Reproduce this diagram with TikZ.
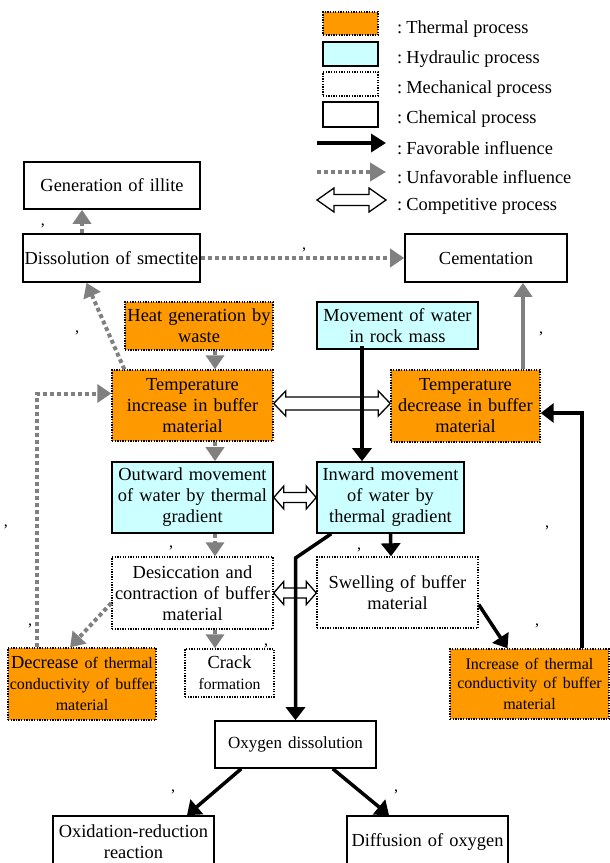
\documentclass[tikz,border=0pt]{standalone}
\usepackage{fontspec}
\setmainfont{Liberation Serif}
\usetikzlibrary{arrows.meta,calc}
\definecolor{thermfill}{HTML}{FF9900}
\definecolor{hydfill}{HTML}{CCFFFF}
\definecolor{arrgray}{HTML}{808080}
\newcommand\comparr[5]{\draw[line width=1.3pt, fill=white, line join=miter] let \p1=#1, \p2=#2 in (\x1,\y1) -- (\x1+#5,\y1+#4) -- (\x1+#5,\y1+#3) -- (\x2-#5,\y1+#3) -- (\x2-#5,\y1+#4) -- (\x2,\y1) -- (\x2-#5,\y1-#4) -- (\x2-#5,\y1-#3) -- (\x1+#5,\y1-#3) -- (\x1+#5,\y1-#4) -- cycle;}
\newcommand\smallf{\fontsize{16}{19}\selectfont}
\begin{document}
\begin{tikzpicture}[x=1pt,y=-1pt,
 every node/.style={font=\fontsize{18.4}{21}\selectfont},
 box/.style={draw, line width=1.6pt, align=center, inner sep=0pt},
 bx/.style n args={4}{minimum width=#3-#1, minimum height=#4-#2, text width={\dimexpr #3pt-#1pt-2pt\relax}, at={(#1/2+#3/2, #2/2+#4/2)}},
 therm/.style={box, fill=thermfill, line width=1.4pt, dash pattern=on 1.3pt off 1.3pt},
 hydro/.style={box, fill=hydfill},
 mech/.style={box, fill=white, line width=1.4pt, dash pattern=on 1.3pt off 1.3pt},
 chem/.style={box, fill=white},
 fav/.style={line width=3.5pt, -{Triangle[length=13pt,width=19pt]}},
 unfav/.style={draw=arrgray, line width=4pt, dash pattern=on 4pt off 3pt, -{Triangle[length=14pt,width=18pt,fill=arrgray]}},
 unfavsolid/.style={draw=arrgray, line width=4pt, -{Triangle[length=14pt,width=18pt,fill=arrgray]}},
 legtext/.style={anchor=west, inner sep=0pt},
 stray/.style={font=\fontsize{16}{16}\selectfont, inner sep=0pt}
]
\useasboundingbox (0,0) rectangle (610,863);

% legend
\node[therm, bx={323}{12}{378}{35}] (lth) {};
\node[hydro, bx={323}{42}{378}{66}] (lhy) {};
\node[mech, bx={323}{72}{378}{96}] (lme) {};
\node[chem, bx={323}{102}{378}{127}] (lch) {};
\coordinate (fa1) at (317,143); \coordinate (fa2) at (386,143);
\coordinate (ua1) at (317,172); \coordinate (ua2) at (386,172);
\coordinate (ca1) at (317,200); \coordinate (ca2) at (386,200);
\draw[fav, -{Triangle[length=15pt,width=18pt]}] (fa1) -- (fa2);
\draw[unfav, -{Triangle[length=16pt,width=18pt,fill=arrgray]}] (ua1) -- (ua2);
\comparr{(ca1)}{(ca2)}{5.5pt}{12pt}{17pt}
\node[legtext] (t1) at (397,29) {:\hspace{4pt}Thermal process};
\node[legtext] (t2) at (397,59) {:\hspace{4pt}Hydraulic process};
\node[legtext] (t3) at (397,89) {:\hspace{4pt}Mechanical process};
\node[legtext] (t4) at (397,119) {:\hspace{4pt}Chemical process};
\node[legtext] (t5) at (397,148) {:\hspace{4pt}Favorable influence};
\node[legtext] (t6) at (397,177) {:\hspace{4pt}Unfavorable influence};
\node[legtext] (t7) at (397,206) {:\hspace{4pt}Competitive process};

% main nodes
\node[chem, bx={24}{162}{200}{209}] (illite) {Generation of illite};
\node[chem, bx={23}{234}{200}{282}] (smectite) {Dissolution of smectite};
\node[therm, bx={125}{302}{273}{350}] (heat) {Heat generation by\\waste};
\node[therm, bx={112}{370}{273}{441}] (tinc) {Temperature\\increase in buffer\\material};
\node[chem, bx={405}{234}{567}{282}] (cement) {Cementation};
\node[hydro, bx={317}{302}{478}{349}] (movew) {Movement of water\\in rock mass};
\node[therm, bx={391}{370}{540}{442}] (tdec) {Temperature\\decrease in buffer\\material};
\node[hydro, bx={112}{462}{273}{533}] (outw) {Outward movement\\of water by thermal\\gradient};
\node[hydro, bx={317}{462}{464}{533}] (inw) {Inward movement\\of water by\\thermal gradient};
\node[mech, bx={112}{557}{273}{629}] (desic) {Desiccation and\\contraction of buffer\\material};
\node[mech, bx={317}{557}{478}{628}] (swell) {Swelling of buffer\\material};
\node[mech, bx={185}{649}{274}{697}] (crack) {Crack\\{\fontsize{15.7}{19}\selectfont formation}};
\node[therm, bx={8}{648}{156}{720}] (decr) {Decrease {\smallf of thermal}\\{\smallf conductivity of buffer}\\{\smallf material}};
\node[therm, bx={450}{649}{609}{719}] (incr) {\smallf Increase of thermal\\conductivity of buffer\\material};
\node[chem, bx={215}{721}{376}{768}] (oxy) {\fontsize{17}{20}\selectfont Oxygen dissolution};
\node[chem, bx={53}{816}{214}{868}] (oxid) {Oxidation-reduction\\reaction\\[4pt]};
\node[chem, bx={347}{816}{508}{868}] (diff) {Diffusion of oxygen\\[3pt]};

% competitive processes (drawn below the influence lines)
\comparr{([yshift=2pt]tinc.east)}{([yshift=2pt]tdec.west)}{6.5pt}{12.5pt}{12pt}
\comparr{(outw.east)}{(inw.west)}{5pt}{11.5pt}{10pt}
\comparr{(desic.east)}{(swell.west)}{5pt}{11.5pt}{10pt}

% unfavorable (grey) influences
\draw[unfav] ([xshift=-29.5pt]smectite.north) -- ([xshift=-30pt]illite.south);
\draw[unfav] (smectite.east) -- (cement.west);
\draw[unfav] ([xshift=16pt]heat.south) -- ([xshift=22.5pt]tinc.north);
\draw[unfav] ([xshift=13pt]tinc.north west) -- ([xshift=-25pt]smectite.south);
\draw[unfav] ([xshift=30pt]decr.north west) |- ([yshift=12pt]tinc.west);
\draw[unfav] ([xshift=22.5pt]tinc.south) -- ([xshift=22.5pt]outw.north);
\draw[unfav] ([xshift=22.5pt]outw.south) -- ([xshift=22.5pt]desic.north);
\draw[unfav] ([xshift=22.5pt]desic.south) -- ([xshift=-14.5pt]crack.north);
\draw[unfav] ([yshift=-10pt]desic.west) -- ([xshift=-12pt]decr.north);
\draw[unfavsolid] ([xshift=57.5pt]tdec.north) -- ([xshift=37pt]cement.south);

% favorable (black) influences
\coordinate (bend) at (295.5,558);
\draw[fav] ([xshift=-35.5pt,yshift=4pt]movew.south) -- ([xshift=-28.5pt]inw.north);
\draw[fav] (inw.south) -- ([xshift=-6.5pt]swell.north);
\draw[fav] ([yshift=-12pt]swell.east) -- ([xshift=-22pt]incr.north);
\draw[fav] ([xshift=52.5pt]incr.north) |- ([yshift=-7pt]tdec.east);
\draw[fav] ([xshift=15pt]inw.south west) -- (bend) -- (oxy.north);
\draw[fav] ([xshift=27pt]oxy.south west) -- ([xshift=53.5pt]oxid.north);
\draw[fav] ([xshift=-44pt]oxy.south east) -- ([xshift=-38.5pt]diff.north);

% stray marks
\node[stray] (k1) at (43,226) {,};
\node[stray] (k2) at (304,250) {,};
\node[stray] (k3) at (77,333) {,};
\node[stray] (k4) at (541,334) {,};
\node[stray] (k5) at (6,527) {,};
\node[stray] (k6) at (171,548) {,};
\node[stray] (k7) at (30,626) {,};
\node[stray] (k8) at (266,646) {,};
\node[stray] (k9) at (359,550) {,};
\node[stray] (k10) at (547,528) {,};
\node[stray] (k11) at (537,626) {,};
\node[stray] (k12) at (173,792) {,};
\node[stray] (k13) at (396,792) {,};
\end{tikzpicture}
\end{document}
